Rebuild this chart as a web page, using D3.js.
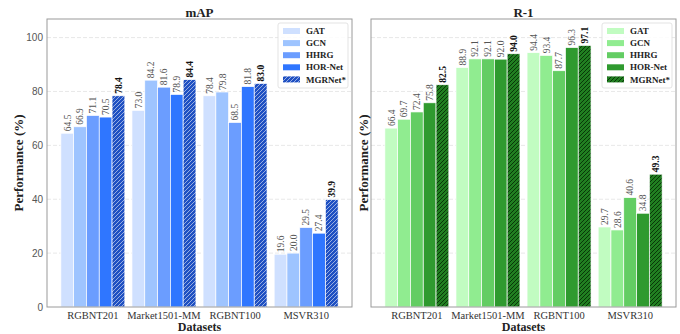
<!DOCTYPE html>
<html>
<head>
<meta charset="utf-8">
<script src="https://cdn.jsdelivr.net/npm/d3@7"></script>
<style>
  body { margin: 0; background: #fff; }
  svg { display: block; }
</style>
</head>
<body>
<div id="chart"></div>
<script>
// datasets on the x axis
const datasets = ["RGBNT201", "Market1501-MM", "RGBNT100", "MSVR310"];
const methods = ["GAT", "GCN", "HHRG", "HOR-Net", "MGRNet*"];

// mAP values, one list per method
const mapGAT = [64.5, 73.0, 78.4, 19.6];
const mapGCN = [66.9, 84.2, 79.8, 20.0];
const mapHHRG = [71.1, 81.6, 68.5, 29.5];
const mapHOR = [70.5, 78.9, 81.8, 27.4];
const mapMGR = [78.4, 84.4, 83.0, 39.9];

// R-1 values
const r1GAT = [66.4, 88.9, 94.4, 29.7];
const r1GCN = [69.7, 92.1, 93.4, 28.6];
const r1HHRG = [72.4, 92.1, 87.7, 40.6];
const r1HOR = [75.8, 92.0, 96.3, 34.8];
const r1MGR = [82.5, 94.0, 97.1, 49.3];

const yTicks = [0, 20, 40, 60, 80, 100];

const blues = ["#cfe0ff", "#9ec4ff", "#6b9dff", "#2f76ff", "#1f50c2"];
const greens = ["#c1fcc1", "#90ec90", "#63cd63", "#2f9a2f", "#217f21"];

const W = 680, H = 334;
const plotTop = 19, plotBottom = 307;
const serif = "'Liberation Serif', 'Times New Roman', serif";
const sans = "'Liberation Sans', Arial, sans-serif";

const svg = d3.select("#chart").append("svg")
    .attr("width", W)
    .attr("height", H);

const defs = svg.append("defs");

// hatch patterns for MGRNet bars
function addHatch(id, base, line, opacity) {
    const p = defs.append("pattern")
        .attr("id", id)
        .attr("patternUnits", "userSpaceOnUse")
        .attr("width", 4)
        .attr("height", 4);
    p.append("rect").attr("width", 4).attr("height", 4).attr("fill", base);
    p.append("path")
        .attr("d", "M-1,1 l2,-2 M0,4 l4,-4 M3,5 l2,-2")
        .attr("stroke", line)
        .attr("stroke-opacity", opacity)
        .attr("stroke-width", 0.9);
}
addHatch("hatchBlue", blues[4], "#ffffff", 0.6);
addHatch("hatchGreen", greens[4], "#002200", 0.85);

const y = d3.scaleLinear().domain([0, 106.9]).range([plotBottom, plotTop]);

function drawPanel(left, right, title, series, colors, hatchId, showTickLabels) {
    const g = svg.append("g");
    const x = d3.scaleLinear().domain([-0.645, 3.645]).range([left, right]);
    const barW = 0.18;

    // grid lines
    g.selectAll(".grid")
        .data(yTicks.filter(d => d > 0))
        .enter()
        .append("line")
        .attr("x1", left)
        .attr("x2", right)
        .attr("y1", d => y(d))
        .attr("y2", d => y(d))
        .attr("stroke", "#e2e2e2")
        .attr("stroke-width", 0.8)
        .attr("stroke-dasharray", "4,2");

    // bars
    series.forEach((vals, i) => {
        const off = (i - 2) * barW;
        const fill = i === 4 ? `url(#${hatchId})` : colors[i];
        g.selectAll(".bar" + i)
            .data(vals)
            .enter()
            .append("rect")
            .attr("x", (d, j) => x(j + off - barW / 2))
            .attr("y", d => y(d))
            .attr("width", x(barW) - x(0))
            .attr("height", d => y(0) - y(d))
            .attr("fill", fill)
            .attr("stroke", "#fff")
            .attr("stroke-width", 0.7);

        // value labels, rotated
        g.selectAll(".lab" + i)
            .data(vals)
            .enter()
            .append("text")
            .attr("transform", (d, j) => `translate(${x(j + off) + 3.3},${y(d) - 2}) rotate(-90)`)
            .attr("font-family", serif)
            .attr("font-size", "9.5px")
            .attr("font-weight", i === 4 ? "bold" : "normal")
            .attr("fill", i === 4 ? "#111" : "#555")
            .text(d => d.toFixed(1));
    });

    // frame
    g.append("rect")
        .attr("x", left)
        .attr("y", plotTop)
        .attr("width", right - left)
        .attr("height", plotBottom - plotTop)
        .attr("fill", "none")
        .attr("stroke", "#9a9a9a")
        .attr("stroke-width", 1);

    // y tick labels
    if (showTickLabels) {
        g.selectAll(".ytick")
            .data(yTicks)
            .enter()
            .append("text")
            .attr("x", left - 4)
            .attr("y", d => y(d))
            .attr("dy", "0.35em")
            .attr("text-anchor", "end")
            .attr("font-family", sans)
            .attr("font-size", "10px")
            .attr("fill", "#555")
            .text(d => d);
    }

    // x tick labels
    g.selectAll(".xtick")
        .data(datasets)
        .enter()
        .append("text")
        .attr("x", (d, j) => x(j))
        .attr("y", 319)
        .attr("text-anchor", "middle")
        .attr("font-family", serif)
        .attr("font-size", "10.5px")
        .attr("fill", "#333")
        .text(d => d);

    // axis titles
    g.append("text")
        .attr("x", (left + right) / 2)
        .attr("y", 331)
        .attr("text-anchor", "middle")
        .attr("font-family", serif)
        .attr("font-weight", "bold")
        .attr("font-size", "12px")
        .attr("fill", "#222")
        .text("Datasets");

    g.append("text")
        .attr("transform", `translate(${showTickLabels ? 18 : left - 8},${(plotTop + plotBottom) / 2}) rotate(-90)`)
        .attr("dy", "0.35em")
        .attr("text-anchor", "middle")
        .attr("font-family", serif)
        .attr("font-weight", "bold")
        .attr("font-size", "13px")
        .attr("fill", "#222")
        .text("Performance (%)");

    g.append("text")
        .attr("x", (left + right) / 2)
        .attr("y", 17)
        .attr("text-anchor", "middle")
        .attr("font-family", serif)
        .attr("font-weight", "bold")
        .attr("font-size", "13px")
        .attr("fill", "#222")
        .text(title);

    // legend
    const lx = right - 74, ly = 23;
    const leg = g.append("g");
    leg.append("rect")
        .attr("x", lx)
        .attr("y", ly)
        .attr("width", 70)
        .attr("height", 65)
        .attr("rx", 2)
        .attr("fill", "#fff")
        .attr("fill-opacity", 0.85)
        .attr("stroke", "#dcdcdc")
        .attr("stroke-width", 0.8);
    methods.forEach((m, i) => {
        const cy = ly + 8 + i * 12.1;
        leg.append("rect")
            .attr("x", lx + 5)
            .attr("y", cy - 3)
            .attr("width", 17)
            .attr("height", 6)
            .attr("fill", i === 4 ? `url(#${hatchId})` : colors[i]);
        leg.append("text")
            .attr("x", lx + 28)
            .attr("y", cy)
            .attr("dy", "0.35em")
            .attr("font-family", serif)
            .attr("font-weight", "bold")
            .attr("font-size", "9px")
            .attr("fill", "#222")
            .text(m);
    });
}

drawPanel(47, 352, "mAP", [mapGAT, mapGCN, mapHHRG, mapHOR, mapMGR], blues, "hatchBlue", true);
drawPanel(371, 676, "R-1", [r1GAT, r1GCN, r1HHRG, r1HOR, r1MGR], greens, "hatchGreen", false);
</script>
</body>
</html>
